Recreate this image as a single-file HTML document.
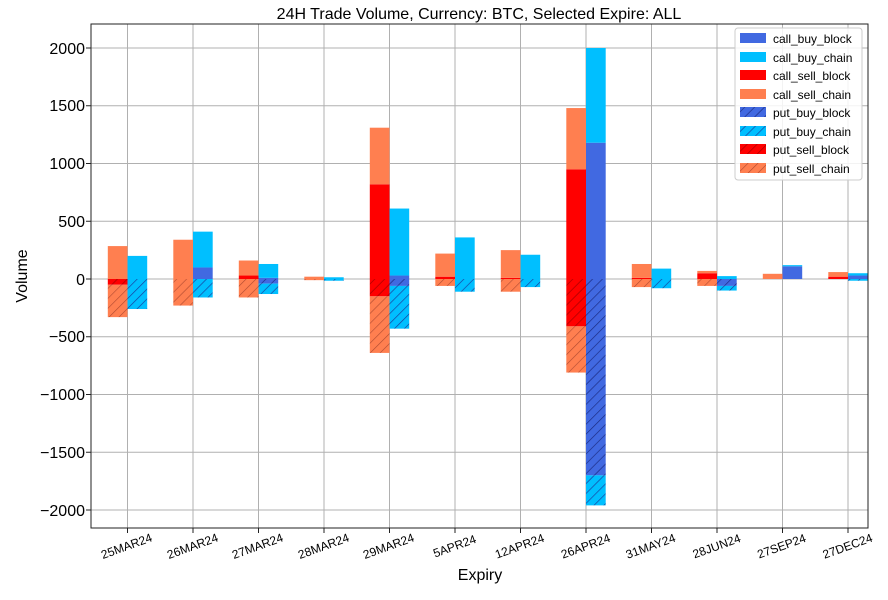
<!DOCTYPE html>
<html><head><meta charset="utf-8"><style>
body{margin:0;background:#fff}
text{font-family:"Liberation Sans","DejaVu Sans",sans-serif}
</style></head><body>
<svg id="s" width="888" height="595" xmlns="http://www.w3.org/2000/svg">
<defs>
<pattern id="hb" width="7" height="7" patternUnits="userSpaceOnUse" patternTransform="rotate(45)"><rect width="7" height="7" fill="#4169e1"/><line x1="0" y1="0" x2="0" y2="7" stroke="#1a2a80" stroke-width="1.3"/></pattern>
<pattern id="hc" width="7" height="7" patternUnits="userSpaceOnUse" patternTransform="rotate(45)"><rect width="7" height="7" fill="#00bfff"/><line x1="0" y1="0" x2="0" y2="7" stroke="#1a3a9a" stroke-width="1.3"/></pattern>
<pattern id="hr" width="7" height="7" patternUnits="userSpaceOnUse" patternTransform="rotate(45)"><rect width="7" height="7" fill="#ff0000"/><line x1="0" y1="0" x2="0" y2="7" stroke="#a00000" stroke-width="1.3"/></pattern>
<pattern id="ho" width="7" height="7" patternUnits="userSpaceOnUse" patternTransform="rotate(45)"><rect width="7" height="7" fill="#ff7f50"/><line x1="0" y1="0" x2="0" y2="7" stroke="#b04a30" stroke-width="1.2"/></pattern>
</defs>
<text x="479" y="19" font-size="16" text-anchor="middle">24H Trade Volume, Currency: BTC, Selected Expire: ALL</text>
<g id="grid" stroke="#b0b0b0" stroke-width="1"></g>
<g id="bars"></g>
<rect x="91" y="24" width="777" height="504" fill="none" stroke="#222" stroke-width="1"/>
<g font-size="16" text-anchor="end">
<text x="85" y="54">2000</text><text x="85" y="111">1500</text><text x="85" y="169">1000</text><text x="85" y="227">500</text><text x="85" y="285">0</text><text x="85" y="342">−500</text><text x="85" y="400">−1000</text><text x="85" y="458">−1500</text><text x="85" y="516">−2000</text>
</g>
<g font-size="12" text-anchor="middle">
<text transform="translate(128,550) rotate(-20)">25MAR24</text>
<text transform="translate(194,550) rotate(-20)">26MAR24</text>
<text transform="translate(259,550) rotate(-20)">27MAR24</text>
<text transform="translate(325,550) rotate(-20)">28MAR24</text>
<text transform="translate(390,550) rotate(-20)">29MAR24</text>
<text transform="translate(456,550) rotate(-20)">5APR24</text>
<text transform="translate(521,550) rotate(-20)">12APR24</text>
<text transform="translate(587,550) rotate(-20)">26APR24</text>
<text transform="translate(652,550) rotate(-20)">31MAY24</text>
<text transform="translate(718,550) rotate(-20)">28JUN24</text>
<text transform="translate(783,550) rotate(-20)">27SEP24</text>
<text transform="translate(849,550) rotate(-20)">27DEC24</text>
</g>
<text x="480" y="580" font-size="16" text-anchor="middle">Expiry</text>
<text transform="translate(27,276) rotate(-90)" font-size="16" text-anchor="middle">Volume</text>
<g>
<rect x="735" y="28" width="127" height="152" fill="#fff" fill-opacity="0.85" stroke="#ccc" rx="3"/>
<rect x="740" y="33" width="26" height="10" fill="#4169e1"/><text x="773" y="43" font-size="12">call_buy_block</text>
<rect x="740" y="52" width="26" height="10" fill="#00bfff"/><text x="773" y="62" font-size="12">call_buy_chain</text>
<rect x="740" y="70" width="26" height="10" fill="#ff0000"/><text x="773" y="80" font-size="12">call_sell_block</text>
<rect x="740" y="89" width="26" height="10" fill="#ff7f50"/><text x="773" y="99" font-size="12">call_sell_chain</text>
<rect x="740" y="107" width="26" height="10" fill="url(#hb)"/><text x="773" y="117" font-size="12">put_buy_block</text>
<rect x="740" y="126" width="26" height="10" fill="url(#hc)"/><text x="773" y="136" font-size="12">put_buy_chain</text>
<rect x="740" y="144" width="26" height="10" fill="url(#hr)"/><text x="773" y="154" font-size="12">put_sell_block</text>
<rect x="740" y="163" width="26" height="10" fill="url(#ho)"/><text x="773" y="173" font-size="12">put_sell_chain</text>
</g>
</svg>
<script>
var NS="http://www.w3.org/2000/svg";
function el(p,t,a){var e=document.createElementNS(NS,t);for(var k in a)e.setAttribute(k,a[k]);p.appendChild(e);return e;}
var g=document.getElementById('grid'),b=document.getElementById('bars');
var y0=279,sc=0.1155;
function Y(v){return y0-v*sc;}
for(var v=-2000;v<=2000;v+=500){el(g,'line',{x1:91,x2:868,y1:Y(v),y2:Y(v)});el(g,'line',{x1:86,x2:91,y1:Y(v),y2:Y(v),stroke:'#222'});}
var cx=[];for(var i=0;i<12;i++){cx.push(127.5+65.5*i);el(g,'line',{x1:cx[i],x2:cx[i],y1:24,y2:528});el(g,'line',{x1:cx[i],x2:cx[i],y1:528,y2:533,stroke:'#222'});}
var D=[
[0,285,-50,-330, 0,200,0,-260],
[0,340,0,-230, 100,410,0,-160],
[30,160,0,-160, 10,130,-40,-130],
[0,20,0,-10, 0,15,0,-15],
[820,1310,-150,-640, 30,610,-60,-430],
[20,220,0,-60, 0,360,0,-110],
[10,250,0,-110, 0,210,0,-70],
[950,1480,-410,-810, 1180,2000,-1700,-1960],
[10,130,0,-70, 0,90,0,-80],
[50,70,0,-60, 0,25,-60,-100],
[0,45,0,0, 110,120,0,0],
[20,60,0,0, 30,50,0,-15]];
function bar(x,a,c,f){if(a==c)return;var t=Math.min(Y(a),Y(c)),h=Math.abs(Y(a)-Y(c));el(b,'rect',{x:x,y:t,width:19.7,height:h,fill:f});}
D.forEach(function(d,i){var xl=cx[i]-19.7,xr=cx[i];
bar(xl,0,d[0],'#ff0000');bar(xl,d[0],d[1],'#ff7f50');bar(xl,0,d[2],'url(#hr)');bar(xl,d[2],d[3],'url(#ho)');
bar(xr,0,d[4],'#4169e1');bar(xr,d[4],d[5],'#00bfff');bar(xr,0,d[6],'url(#hb)');bar(xr,d[6],d[7],'url(#hc)');});
</script>
</body></html>
